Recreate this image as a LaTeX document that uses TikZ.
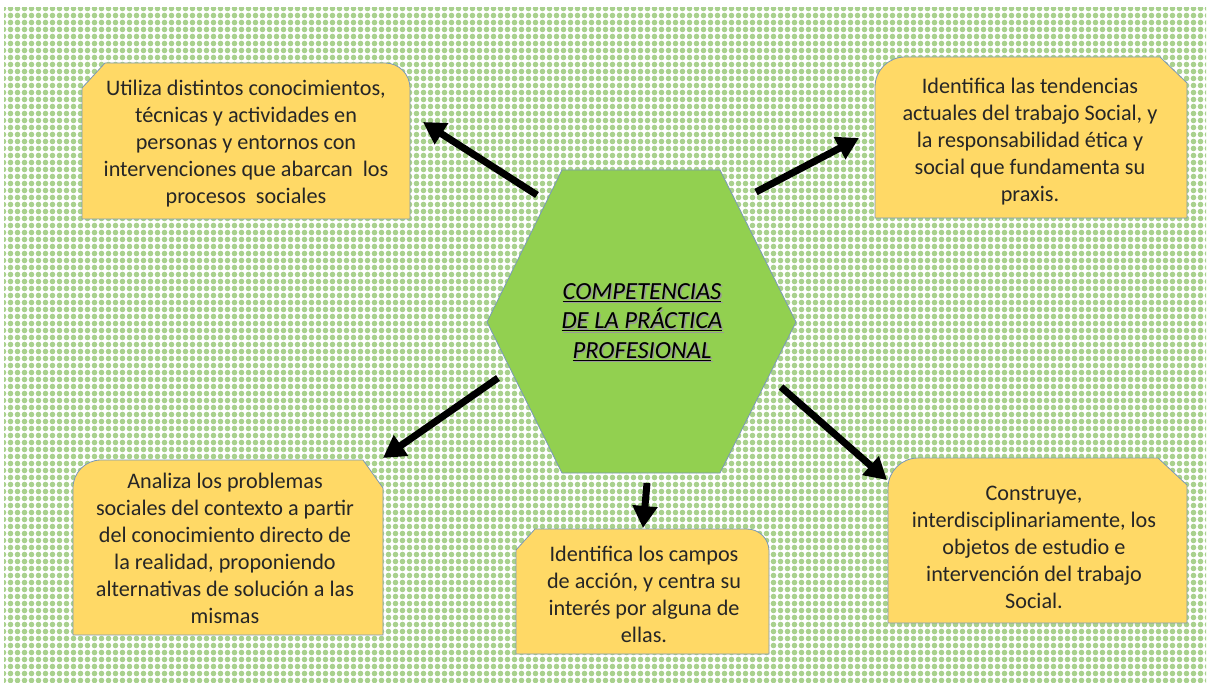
\documentclass[tikz,border=0pt]{standalone}
\usepackage{fontspec}
\setmainfont{Carlito}
\usetikzlibrary{arrows.meta,patterns}

\definecolor{dotgreen}{HTML}{A9D18E}
\definecolor{boxyellow}{HTML}{FFD966}
\definecolor{hexgreen}{HTML}{92D050}
\definecolor{edgeblue}{HTML}{7A98B8}

\pgfdeclarepatternformonly{greendots}{\pgfqpoint{-1pt}{-1pt}}{\pgfqpoint{8pt}{8pt}}{\pgfqpoint{7pt}{7pt}}{%
  \pgfpathcircle{\pgfqpoint{3.5pt}{3.5pt}}{2.8pt}\pgfusepath{fill}}

\tikzset{
  boxtext/.style={align=center, font=\fontsize{22.2}{27}\selectfont, text=black!85},
  titletext/.style={align=center, font=\itshape\fontsize{24.6}{29.5}\selectfont},
  boxline/.style={draw=edgeblue, line width=0.8pt, fill=boxyellow},
  bigarrow/.style={line width=7pt, -{Triangle[length=22pt,width=24pt]}},
}

\begin{document}
\begin{tikzpicture}[x=1pt,y=-1pt]
    \useasboundingbox (0,0) rectangle (1207,684);
    % background
    \fill[white] (0,0) rectangle (1207,684);
    \fill[pattern=greendots, pattern color=dotgreen] (4,8) rectangle (1206,682);

    % boxes
    \draw[boxline] (82,219) -- (82,88) -- (105,63) [rounded corners=25pt] -- (410,63) [sharp corners] -- (410,219) -- cycle;
    \draw[boxline] (875,218) [rounded corners=30pt] -- (875,57) [sharp corners] -- (1160,57) -- (1187,83) -- (1187,218) -- cycle;
    \draw[boxline] (73,635) [rounded corners=28pt] -- (73,460) [sharp corners] -- (363,460) -- (383,488) -- (383,635) -- cycle;
    \draw[boxline] (516,654) -- (516,550) -- (535,529) [rounded corners=22pt] -- (769,529) [sharp corners] -- (769,654) -- cycle;
    \draw[boxline] (888,623) [rounded corners=30pt] -- (888,458) [sharp corners] -- (1158,458) -- (1187,485) -- (1187,623) -- cycle;

    % hexagon
    \draw[draw=edgeblue, line width=0.8pt, fill=hexgreen] (487,322) -- (562,170) -- (720,170) -- (796,322) -- (720,473) -- (562,473) -- cycle;

    \node[boxtext] (uso) at (246,144) {Utiliza distintos conocimientos,\\ técnicas y actividades en\\ personas y entornos con\\ intervenciones que abarcan\ \ los\\ procesos\ \ sociales};
    \node[boxtext] (tendencias) at (1030,142) {Identifica las tendencias\\ actuales del trabajo Social, y\\ la responsabilidad ética y\\ social que fundamenta su\\ praxis.};
    \node[boxtext] (analiza) at (225,548) {Analiza los problemas\\ sociales del contexto a partir\\ del conocimiento directo de\\ la realidad, proponiendo\\ alternativas de solución a las\\ mismas};
    \node[boxtext] (campos) at (644,594) {Identifica los campos\\ de acción, y centra su\\ interés por alguna de\\ ellas.};
    \node[boxtext] (construye) at (1034,547) {Construye,\\ interdisciplinariamente, los\\ objetos de estudio e\\ intervención del trabajo\\ Social.};

    \node[titletext, text=black!40] (sombra) at (643.5,323.5) {\underline{COMPETENCIAS}\\ \underline{DE LA PRÁCTICA}\\ \underline{PROFESIONAL}};
    \node[titletext] (titulo) at (642,322) {\underline{COMPETENCIAS}\\ \underline{DE LA PRÁCTICA}\\ \underline{PROFESIONAL}};

    % arrows
    \coordinate (a1) at (537,195);
    \coordinate (b1) at (423,122);
    \coordinate (a2) at (756,192);
    \coordinate (b2) at (859,138);
    \coordinate (a3) at (498,378);
    \coordinate (b3) at (383,458);
    \coordinate (a4) at (647,483);
    \coordinate (b4) at (643,528);
    \coordinate (a5) at (781,387);
    \coordinate (b5) at (887,480);

    \draw[bigarrow] (a1) -- (b1);
    \draw[bigarrow] (a2) -- (b2);
    \draw[bigarrow] (a3) -- (b3);
    \draw[bigarrow] (a4) -- (b4);
    \draw[bigarrow] (a5) -- (b5);
\end{tikzpicture}
\end{document}
